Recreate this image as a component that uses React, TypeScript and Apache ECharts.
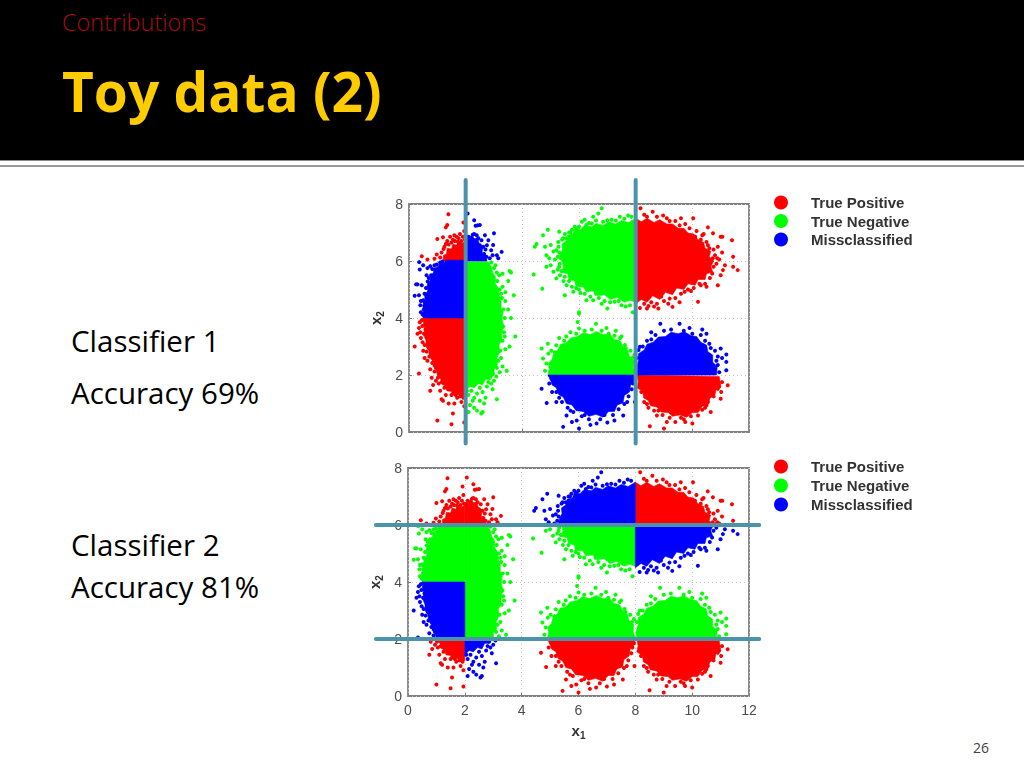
import React, { useEffect, useRef } from "react";
import * as echarts from "echarts";

const RED = "#ff0000";
const GREEN = "#00ff00";
const BLUE = "#0000ff";
const TEAL = "#4a93a9";

const seriesNames = ["True Positive", "True Negative", "Missclassified"];

// Solid cores of each blob piece, in data units (x1, x2)
const aTLCore = [[1.2,6],[1.22,6.2],[1.32,6.25],[1.35,6.45],[1.5,6.42],[1.55,6.6],[1.68,6.55],[1.75,6.72],[1.88,6.62],[2,6.7],[2,6]];
const aTRCore = [[2,6],[2,6.72],[2.12,6.8],[2.2,6.9],[2.32,6.78],[2.42,6.82],[2.48,6.6],[2.6,6.5],[2.58,6.3],[2.72,6.2],[2.75,6]];
const aULCore = [[2,4],[0.5,4],[0.46,4.15],[0.52,4.25],[0.48,4.45],[0.58,4.6],[0.55,4.8],[0.66,4.95],[0.64,5.15],[0.74,5.3],[0.76,5.5],[0.86,5.58],[0.88,5.75],[1.02,5.8],[1.1,5.95],[1.22,5.92],[1.3,6.03],[2,6.03]];
const aMLCore = [[0.55,4],[0.5,3.8],[0.56,3.6],[0.52,3.4],[0.6,3.2],[0.6,3.0],[0.7,2.85],[0.72,2.65],[0.82,2.5],[0.85,2.3],[0.95,2.2],[1,2],[2,2],[2,4]];
const aBLCore = [[1,2],[1.12,1.85],[1.15,1.68],[1.3,1.6],[1.35,1.45],[1.5,1.42],[1.6,1.3],[1.75,1.32],[1.85,1.2],[2,1.25],[2,2]];
const aRCore = [[2,5.97],[2.8,5.97],[2.9,5.8],[2.95,5.6],[3.05,5.45],[3.05,5.2],[3.15,5.05],[3.18,4.8],[3.25,4.6],[3.25,4.35],[3.32,4.2],[3.28,3.95],[3.35,3.7],[3.27,3.5],[3.28,3.25],[3.18,3.05],[3.2,2.8],[3.1,2.6],[3.12,2.35],[3.0,2.2],[3.02,2],[2,2]];
const aBRCore = [[2,2],[3.0,2],[2.85,1.85],[2.7,1.85],[2.6,1.65],[2.45,1.7],[2.3,1.55],[2.15,1.6],[2,1.45]];
const bTLCore = [[8,6],[5.4,6],[5.32,6.2],[5.42,6.4],[5.4,6.6],[5.55,6.7],[5.6,6.9],[5.78,6.95],[5.85,7.12],[6.05,7.1],[6.2,7.25],[6.45,7.2],[6.6,7.32],[6.85,7.25],[7.05,7.38],[7.3,7.3],[7.5,7.42],[7.75,7.35],[8,7.5]];
const bBLCore = [[5.4,6],[5.45,5.8],[5.4,5.6],[5.6,5.55],[5.65,5.35],[5.85,5.3],[5.9,5.1],[6.15,5.1],[6.25,4.92],[6.5,4.95],[6.65,4.78],[6.9,4.82],[7.1,4.65],[7.35,4.72],[7.6,4.55],[7.8,4.62],[8,4.55],[8,6]];
const bTRCore = [[8,6],[8,7.5],[8.2,7.38],[8.4,7.5],[8.65,7.35],[8.85,7.45],[9.1,7.3],[9.3,7.3],[9.5,7.15],[9.7,7.15],[9.85,6.98],[10.05,6.95],[10.2,6.75],[10.4,6.65],[10.45,6.45],[10.65,6.35],[10.6,6.15],[10.75,6]];
const bBRCore = [[8,6],[10.75,6],[10.65,5.8],[10.72,5.62],[10.5,5.55],[10.45,5.35],[10.2,5.35],[10.1,5.15],[9.85,5.2],[9.7,5],[9.45,5.05],[9.3,4.82],[9.05,4.9],[8.85,4.65],[8.6,4.78],[8.4,4.55],[8.2,4.65],[8,4.5]];
const cTCore = [[4.9,2],[4.95,2.2],[4.92,2.4],[5.05,2.55],[5.1,2.75],[5.25,2.88],[5.35,3.08],[5.55,3.12],[5.7,3.3],[5.95,3.35],[6.15,3.48],[6.4,3.42],[6.62,3.53],[6.85,3.42],[7.1,3.42],[7.25,3.25],[7.45,3.2],[7.55,3],[7.72,2.88],[7.78,2.65],[7.95,2.5],[7.92,2.25],[8,2.05],[8,2]];
const cBCore = [[4.9,2],[5,1.82],[5.05,1.65],[5.2,1.55],[5.28,1.32],[5.45,1.22],[5.55,1],[5.75,0.95],[5.9,0.75],[6.15,0.72],[6.35,0.55],[6.6,0.62],[6.85,0.52],[7.05,0.72],[7.25,0.72],[7.35,0.95],[7.55,1.02],[7.6,1.28],[7.78,1.4],[7.82,1.65],[7.97,1.8],[8,2]];
const dTCore = [[8.05,2],[8.02,2.25],[8.1,2.5],[8.1,2.75],[8.3,2.88],[8.4,3.08],[8.62,3.15],[8.8,3.33],[9.05,3.35],[9.25,3.5],[9.5,3.45],[9.72,3.52],[9.95,3.38],[10.15,3.35],[10.3,3.15],[10.5,3.05],[10.55,2.82],[10.72,2.7],[10.72,2.45],[10.88,2.3],[10.85,2]];
const dBCore = [[8.05,2],[8.1,1.75],[8.05,1.55],[8.25,1.42],[8.28,1.2],[8.45,1.1],[8.52,0.92],[8.75,0.88],[8.9,0.7],[9.15,0.68],[9.3,0.55],[9.55,0.6],[9.8,0.52],[10,0.68],[10.2,0.68],[10.35,0.9],[10.55,0.95],[10.62,1.18],[10.8,1.3],[10.85,1.55],[11,1.65],[10.95,1.95]];

// Loose dots around the cores
const aTLDots = [[1.39,7.64],[1.35,7.26],[1.3,7.18],[1.0,6.77],[1.2,6.83],[0.45,6.17],[0.98,6.23],[0.65,6.05],[1.25,6.5],[1.35,6.7],[1.45,6.85],[1.5,6.65],[1.55,6.75],[1.6,6.9],[1.68,6.85],[1.75,6.8],[1.8,6.95],[1.85,6.7],[1.9,6.85],[1.95,7.05],[1.92,7.35],[1.15,6.3],[1.1,6.12],[1.22,6.42],[1.4,6.58],[1.62,6.7],[1.97,6.75],[1.72,6.68],[1.3,6.6],[0.9,6.08]];
const aTRDots = [[2.07,7.67],[2.3,7.43],[2.35,7.24],[2.42,7.25],[2.5,7.26],[2.68,6.9],[3.0,6.97],[2.8,6.73],[2.97,6.56],[3.27,6.32],[2.9,6.38],[3.1,6.2],[2.73,6.15],[3.15,6.1],[2.62,6.5],[2.56,6.73],[2.39,6.9],[2.25,6.92],[2.1,6.85],[2.05,6.75],[2.5,6.55],[2.7,6.4],[2.85,6.1],[2.95,6.2],[2.65,6.25],[2.3,6.95],[2.45,6.8],[2.75,6.55]];
const aULDots = [[0.36,5.96],[0.38,5.7],[0.5,5.85],[0.65,5.75],[0.62,5.5],[0.7,5.4],[0.3,5.18],[0.25,5.18],[0.45,5.15],[0.2,4.78],[0.35,4.8],[0.42,4.6],[0.4,4.45],[0.5,4.62],[0.55,4.55],[0.42,4.2],[0.48,4.12],[0.62,4.7],[0.72,5.2],[0.78,5.5],[0.82,5.72],[0.98,5.88],[1.1,5.95],[0.6,5.05],[0.55,4.85],[0.66,5.28],[0.9,5.85],[0.75,5.82],[1.18,5.98],[0.52,4.3]];
const aMLDots = [[0.2,3.0],[0.38,3.85],[0.35,3.65],[0.4,3.5],[0.3,3.45],[0.42,3.3],[0.48,3.15],[0.5,2.85],[0.55,2.6],[0.35,2.05],[0.65,2.5],[0.75,2.2],[0.52,3.95],[0.47,3.72],[0.53,3.45],[0.55,3.05],[0.62,2.82],[0.72,2.65],[0.82,2.42],[0.9,2.12],[0.95,2.25],[0.7,2.95],[0.58,3.6],[0.45,3.92]];
const aBLDots = [[0.8,1.9],[0.75,1.45],[0.85,1.65],[1.05,1.7],[1.1,1.45],[1.15,1.15],[1.2,1.1],[1.3,1.3],[1.5,1.3],[1.6,1.0],[1.4,1.0],[1.55,0.65],[1.0,0.4],[1.5,0.27],[1.95,0.33],[1.7,1.2],[1.85,1.05],[1.95,0.9],[1.65,1.3],[1.25,1.55],[1.38,1.5],[1.55,1.35],[1.8,1.25],[1.92,1.2],[1.02,1.9],[1.15,1.75],[0.95,1.8]];
const aRDots = [[3.1,5.6],[3.3,5.55],[3.55,5.65],[3.5,5.3],[3.6,5.6],[3.3,5.1],[3.4,4.9],[3.7,4.8],[3.4,4.6],[3.5,4.3],[3.6,4.0],[3.75,3.35],[3.55,3.0],[3.4,2.9],[3.35,3.5],[3.25,2.6],[3.3,2.3],[3.2,2.1],[3.45,2.15],[3.1,3.0],[2.9,5.95],[3.0,5.75],[3.12,5.3],[3.2,5.0],[3.28,4.7],[3.33,4.3],[3.38,4.0],[3.32,3.7],[3.3,3.2],[3.22,2.85],[3.15,2.5],[3.1,2.25],[3.05,5.85],[3.25,4.85],[3.38,3.35],[3.18,5.5]];
const aBRDots = [[2.1,1.3],[2.2,1.45],[2.3,1.2],[2.4,1.35],[2.6,1.4],[2.75,1.6],[3.1,1.15],[2.5,1.1],[2.65,1.0],[2.6,0.7],[2.4,0.75],[2.3,0.85],[2.15,0.95],[2.1,0.7],[2.55,0.65],[2.9,1.7],[3.0,1.8],[2.85,1.9],[2.95,1.5],[2.7,1.2],[2.25,1.1],[2.05,1.45],[2.5,1.55],[2.8,1.75],[3.08,1.95]];
const bTLDots = [[6.8,7.85],[6.68,7.67],[6.5,7.55],[6.1,7.38],[5.3,7.03],[4.9,7.1],[4.73,6.9],[4.5,6.6],[4.44,6.5],[4.85,6.2],[5.1,6.33],[5.44,6.8],[5.7,7],[5.92,7.14],[7.44,7.55],[7.73,7.6],[7,7.43],[6.26,7.26],[5.27,6.67],[5.2,6.38],[4.8,6.5],[5,6.56],[5.36,6.1],[5.3,6.3],[5.55,6.8],[5.65,7.0],[5.85,7.2],[6.0,7.2],[6.35,7.33],[6.6,7.42],[6.85,7.38],[7.15,7.45],[7.6,7.48],[7.85,7.55],[5.4,6.75],[5.5,6.95],[6.2,7.45],[4.95,6.1],[5.25,6.15],[5.15,6.05],[5.28,6.5],[5.75,7.1],[6.45,7.32],[7.3,7.42]];
const bBLDots = [[4.4,5.53],[4.7,5.03],[5.1,5.62],[5.33,5.5],[5.56,5.15],[5.5,4.8],[6,4.2],[5.95,3.86],[6.5,4.62],[7,4.33],[7.26,4.57],[5.8,4.92],[6.26,4.62],[7.9,4.2],[7.68,4.68],[5.2,5.39],[5,5.85],[4.85,5.8],[5.3,5.8],[5.38,5.65],[5.5,5.45],[5.65,5.3],[5.75,5.1],[6.0,5.0],[6.2,4.85],[6.4,4.75],[6.7,4.7],[6.9,4.6],[7.1,4.55],[7.5,4.45],[7.8,4.45],[5.9,5.05],[5.32,5.9],[6.6,4.85],[5.25,5.7],[5.45,5.3],[6.05,4.88],[6.8,4.5],[7.4,4.6],[7.65,4.4]];
const bTRDots = [[8.17,7.85],[8.6,7.73],[8.97,7.6],[9.6,7.5],[10.03,7.5],[10.55,7.18],[11,6.85],[11.4,6.73],[11.06,6.85],[11.44,6.15],[10.73,6.97],[10.5,6.67],[10.9,6.5],[10.8,6.2],[8.4,7.55],[8.75,7.55],[9.2,7.4],[9.4,7.4],[9.75,7.3],[9.9,7.15],[10.15,7.05],[10.35,6.9],[10.6,6.45],[10.75,6.4],[10.4,6.95],[11.05,6.3],[10.72,6.1],[9.1,7.5],[8.3,7.62],[9.55,7.25],[10.1,6.85],[10.3,6.75],[10.55,6.55],[10.88,6.1],[10.95,6.05]];
const bBRDots = [[11.6,5.68],[11.08,5.68],[11.44,5.8],[10.9,5.15],[10.7,5.56],[10.2,4.57],[9.3,4.39],[8.8,4.33],[8.4,4.33],[9.2,4.68],[9.73,4.92],[10.75,5.8],[10.85,5.9],[11.15,5.85],[10.62,5.4],[10.45,5.2],[10.3,5.15],[10.05,5.05],[9.85,5.0],[9.6,4.85],[9.4,4.7],[9.0,4.6],[8.75,4.5],[8.55,4.55],[8.3,4.5],[8.15,4.35],[9.55,4.55],[10.5,5.1],[8.9,4.75],[11.0,5.5],[10.25,5.2],[9.95,4.95],[9.15,4.5],[8.65,4.4],[8.45,4.42]];
const cTDots = [[4.68,2.93],[4.9,3.1],[4.73,2.58],[5.2,3.04],[6,4.15],[6.6,3.8],[6.97,3.65],[6,3.63],[5.3,3.3],[5.55,3.35],[5.7,3.5],[6.2,3.55],[6.45,3.6],[6.8,3.55],[7.05,3.45],[7.25,3.38],[7.45,3.3],[7.62,3.05],[7.82,2.85],[7.95,2.7],[5.02,2.85],[4.85,2.4],[4.8,2.15],[4.92,2.75],[5.15,2.8],[5.48,3.2],[7.5,3.35],[7.3,3.55],[5.9,3.45],[7.65,2.95],[7.88,2.6]];
const cBDots = [[4.68,1.52],[4.86,1.02],[5.03,1.87],[5.44,0.18],[6,0.12],[6.62,0.3],[7,0.33],[7.56,0.58],[7.97,1.05],[7.86,1.5],[5.2,1.05],[5.56,0.58],[5.92,0.4],[4.95,1.7],[5.05,1.4],[5.2,1.4],[5.4,1.05],[5.6,0.85],[5.8,0.7],[6.1,0.55],[6.35,0.45],[6.75,0.45],[7.2,0.6],[7.4,0.8],[7.6,0.98],[7.75,1.25],[7.9,1.7],[5.75,0.35],[6.4,0.25],[7.25,0.4],[7.95,1.85],[5.3,1.2],[5.7,0.75],[6.2,0.6],[6.9,0.6],[7.7,1.05]];
const dTDots = [[8.87,3.8],[9.55,3.8],[9.9,3.65],[10.5,3.45],[11.2,2.72],[11.2,2.46],[11,2.93],[10.9,2.35],[11.2,2.17],[8.15,2.99],[8.4,3.2],[8.7,3.4],[9.0,3.55],[9.25,3.6],[9.7,3.55],[10.0,3.45],[10.3,3.4],[10.6,3.1],[10.8,2.85],[10.9,2.65],[11.05,2.6],[10.95,2.1],[8.05,2.6],[8.55,3.5],[10.35,3.6],[8.25,3.0],[8.1,2.88],[10.45,3.2],[10.65,2.95],[8.55,3.25],[10.85,2.5]];
const dBDots = [[8.5,0.2],[9,0.12],[9.4,0.35],[9.75,0.35],[10,0.3],[11.25,1.64],[11,1.17],[10.5,0.94],[10.9,1.52],[10.2,0.58],[8.75,0.58],[8.2,1.4],[8.3,1.05],[8.45,0.85],[8.65,0.75],[8.95,0.6],[9.2,0.5],[9.6,0.5],[9.95,0.55],[10.35,0.78],[10.55,1.05],[10.75,1.25],[11.05,1.75],[11.02,1.4],[9.1,0.35],[10.65,0.7],[8.15,1.7],[8.4,0.98],[8.8,0.75],[9.7,0.45],[10.45,0.85],[10.95,1.6]];

const plot1Core = [
  [aTLCore, aMLCore, aBLCore, bTRCore, bBRCore, dBCore],
  [aRCore, aBRCore, bTLCore, bBLCore, cTCore],
  [aULCore, aTRCore, cBCore, dTCore],
];
const plot1Dots = [
  [...aTLDots, ...aMLDots, ...aBLDots, ...bTRDots, ...bBRDots, ...dBDots],
  [...aRDots, ...aBRDots, ...bTLDots, ...bBLDots, ...cTDots],
  [...aULDots, ...aTRDots, ...cBDots, ...dTDots],
];
const plot2Core = [
  [aTLCore, aTRCore, aBLCore, bTRCore, cBCore, dBCore],
  [aULCore, aRCore, bBLCore, cTCore, dTCore],
  [aMLCore, aBRCore, bTLCore, bBRCore],
];
const plot2Dots = [
  [...aTLDots, ...aTRDots, ...aBLDots, ...bTRDots, ...cBDots, ...dBDots],
  [...aULDots, ...aRDots, ...bBLDots, ...cTDots, ...dTDots],
  [...aMLDots, ...aBRDots, ...bTLDots, ...bBRDots],
];

// Classifier boundaries drawn over the plots: [x from, y from, x to, y to]
const plot1Bounds = [[2,-0.4,2,8.84],[8,-0.4,8,8.84]];
const plot2Bounds = [[-1.13,6,12.36,6],[-1.13,2,12.36,2]];

const FONT = "Liberation Sans";
const SLIDE_FONT = "Open Sans";
const colors = [RED, GREEN, BLUE];

const grids = [
  { left: 409, top: 204, width: 340, height: 228 },
  { left: 408, top: 468, width: 341, height: 228 },
];

function nameRich() {
  return {
    x: { fontFamily: FONT, fontWeight: "bold", fontSize: 15, color: "#333333" },
    s: { fontFamily: FONT, fontWeight: "bold", fontSize: 10, color: "#333333", padding: [9, 0, 0, 0] },
  };
}

function axes(idx: number, showXLabels: boolean) {
  const common = {
    gridIndex: idx,
    axisLine: { show: false },
    axisTick: { show: true, inside: true, length: 3, lineStyle: { color: "#808080" } },
    splitLine: { show: true, lineStyle: { color: "#c4c4c4", type: [1, 3] } },
    axisLabel: { color: "#4d4d4d", fontFamily: FONT, fontSize: 14 },
  };
  return {
    x: {
      ...common,
      type: "value",
      min: 0,
      max: 12,
      interval: 2,
      axisLabel: { ...common.axisLabel, show: showXLabels, margin: 7 },
      name: showXLabels ? "{x|x}{s|1}" : "",
      nameLocation: "middle",
      nameGap: 25,
      nameTextStyle: { rich: nameRich() },
    },
    y: {
      ...common,
      type: "value",
      min: 0,
      max: 8,
      interval: 2,
      axisLabel: { ...common.axisLabel, margin: 6 },
      name: "{x|x}{s|2}",
      nameLocation: "middle",
      nameGap: 24,
      nameTextStyle: { rich: nameRich() },
    },
  };
}

function plotSeries(idx: number, cores: number[][][][], dots: number[][][]) {
  const out: any[] = [];
  seriesNames.forEach((name, i) => {
    out.push({
      type: "scatter",
      name,
      xAxisIndex: idx,
      yAxisIndex: idx,
      data: dots[i],
      symbolSize: 4,
      itemStyle: { color: colors[i], opacity: 1 },
      z: 3,
      silent: true,
    });
    out.push({
      type: "custom",
      name,
      xAxisIndex: idx,
      yAxisIndex: idx,
      data: cores[i].map((c) => c[0]),
      encode: { x: 0, y: 1 },
      itemStyle: { color: colors[i], opacity: 1 },
      z: 2,
      silent: true,
      renderItem: (p: any, api: any) => ({
        type: "polygon",
        shape: { points: cores[i][p.dataIndex].map((v) => api.coord(v)) },
        style: { fill: colors[i], stroke: colors[i], lineWidth: 0.6 },
      }),
    });
  });
  return out;
}

function boundSeries(idx: number, bounds: number[][]) {
  return {
    type: "custom",
    name: "Classifier boundary",
    xAxisIndex: idx,
    yAxisIndex: idx,
    data: bounds,
    encode: { x: [0, 2], y: [1, 3] },
    clip: false,
    z: 5,
    silent: true,
    renderItem: (p: any, api: any) => {
      const b = bounds[p.dataIndex];
      const s = api.coord([b[0], b[1]]);
      const e = api.coord([b[2], b[3]]);
      return {
        type: "line",
        shape: { x1: s[0], y1: s[1], x2: e[0], y2: e[1] },
        style: { stroke: TEAL, lineWidth: 4, lineCap: "round" },
      };
    },
  };
}

function legendAt(top: number, textTop: number, gap: number) {
  return {
    data: seriesNames,
    orient: "vertical",
    left: 774,
    top,
    icon: "circle",
    itemWidth: 14,
    itemHeight: 14,
    itemGap: gap,
    padding: 0,
    selectedMode: false,
    textStyle: { fontFamily: FONT, fontWeight: "bold", fontSize: 15, color: "#333333", padding: [textTop, 0, 0, 18] },
  };
}

function txt(text: string, x: number, y: number, fontSize: number, fill: string, extra: any = {}) {
  return {
    type: "text",
    x,
    y,
    style: { text, fontSize, fontFamily: SLIDE_FONT, fill, textVerticalAlign: "middle", ...extra },
  };
}

export default function App() {
  const plotRef = useRef<HTMLDivElement>(null);
  const slideRef = useRef<HTMLDivElement>(null);
  useEffect(() => {
    document.body.style.margin = "0";
    const plots = echarts.init(plotRef.current!, undefined, { renderer: "svg" });
    const slide = echarts.init(slideRef.current!, undefined, { renderer: "svg" });
    const a1 = axes(0, false);
    const a2 = axes(1, true);
    plots.setOption({
      animation: false,
      backgroundColor: "#ffffff",
      grid: grids.map((g) => ({ ...g, show: true, borderColor: "#808080", borderWidth: 1.8, backgroundColor: "transparent" })),
      xAxis: [a1.x, a2.x],
      yAxis: [a1.y, a2.y],
      legend: [legendAt(195, 3, 3.5), legendAt(459, 2, 4)],
      series: [...plotSeries(0, plot1Core, plot1Dots), ...plotSeries(1, plot2Core, plot2Dots)],
    });
    slide.setOption({
      animation: false,
      backgroundColor: "transparent",
      grid: grids,
      xAxis: [0, 1].map((i) => ({ gridIndex: i, type: "value", min: 0, max: 12, interval: 2, show: false })),
      yAxis: [0, 1].map((i) => ({ gridIndex: i, type: "value", min: 0, max: 8, interval: 2, show: false })),
      series: [boundSeries(0, plot1Bounds), boundSeries(1, plot2Bounds)],
      graphic: [
        { type: "rect", shape: { x: 0, y: 0, width: 1024, height: 160 }, style: { fill: "#000000" } },
        { type: "rect", shape: { x: 0, y: 160, width: 1024, height: 1 }, style: { fill: "#8a8a8a" } },
        { type: "rect", shape: { x: 0, y: 165, width: 1024, height: 2 }, style: { fill: "#9a9a9a" } },
        txt("Contributions", 62, 22, 23.5, "#a50f0f", { fontWeight: 300 }),
        txt("Toy data (2)", 62, 90, 55, "#ffcc00", { fontWeight: "bold" }),
        txt("Classifier 1", 71, 340, 29.5, "#000000"),
        txt("Accuracy 69%", 71, 392, 29.5, "#000000"),
        txt("Classifier 2", 71, 544, 29.5, "#000000"),
        txt("Accuracy 81%", 71, 586, 29.5, "#000000"),
        txt("26", 973, 747, 14, "#444444"),
      ],
    });
    return () => {
      plots.dispose();
      slide.dispose();
    };
  }, []);
  const box = { position: "absolute", left: 0, top: 0, width: 1024, height: 768 } as const;
  return (
    <div>
      <div ref={plotRef} style={{ ...box, filter: "blur(0.6px)" }} />
      <div ref={slideRef} style={{ ...box, pointerEvents: "none" }} />
    </div>
  );
}
